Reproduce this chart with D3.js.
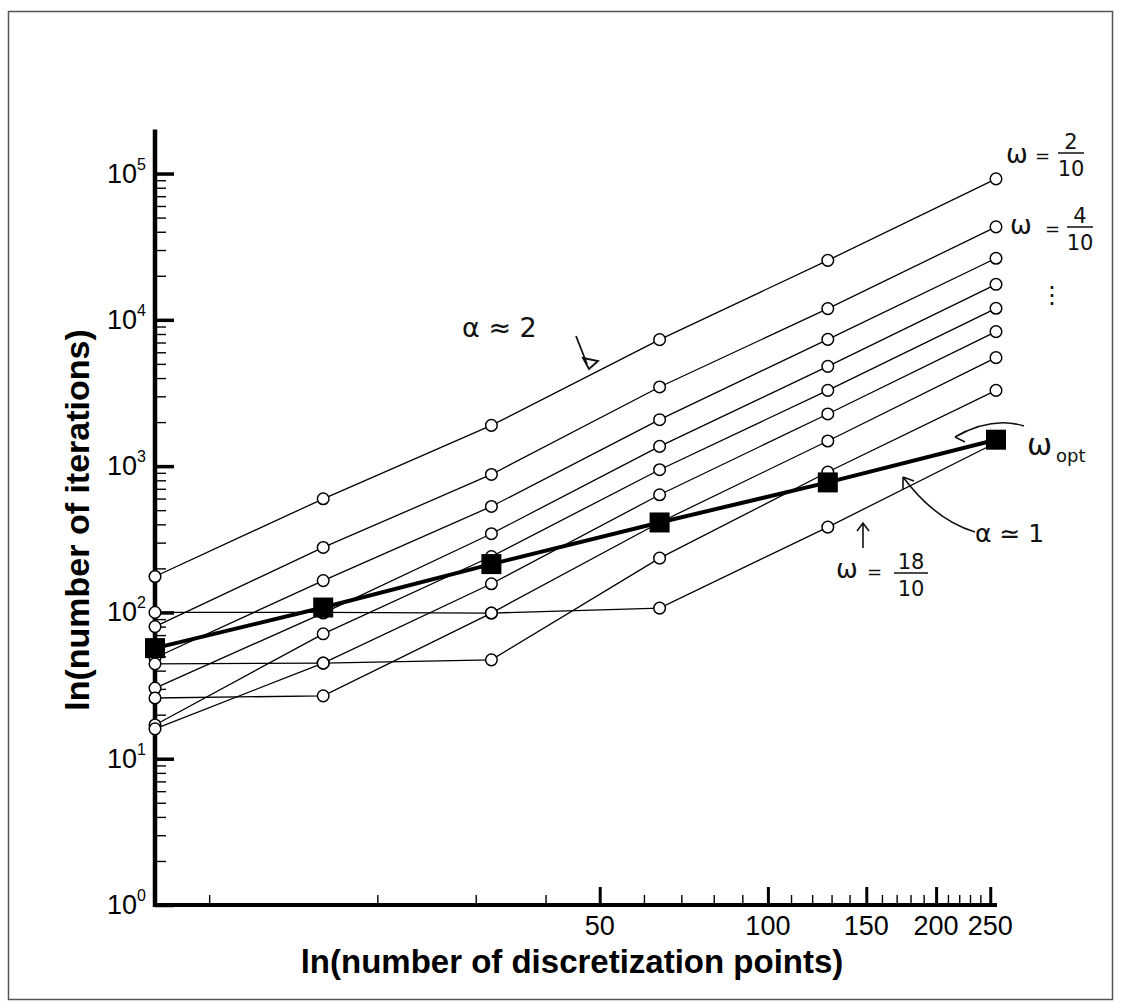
<!DOCTYPE html>
<html lang="en">
<head>
<meta charset="utf-8">
<title>SOR iterations vs grid size</title>
<script src="https://cdn.jsdelivr.net/npm/d3@7"></script>
<style>
  body { margin: 0; background: #fff; }
  svg { display: block; }
  .note { font-family: "DejaVu Sans", sans-serif; fill: #111; }
</style>
</head>
<body>
<script>

// number of discretization points
var xPoints = [8, 16, 32, 64, 128, 256];

// iterations for each fixed omega
var iterW02 = [176, 598, 1898, 7320, 25500, 92000];
var iterW04 = [80, 278, 877, 3475, 11930, 43200];
var iterW06 = [49, 165, 530, 2077, 7355, 26350];
var iterW08 = [30.4, 99, 345, 1364, 4808, 17490];
var iterW10 = [17, 71.4, 241, 945, 3296, 11990];
var iterW12 = [16, 45, 157, 637, 2272, 8307];
var iterW14 = [26, 26.9, 99, 412, 1485, 5513];
var iterW16 = [44.5, 45, 47.4, 235, 911, 3294];
var iterW18 = [100, 100, 99, 107, 383, 1445];
// iterations with the optimal omega
var iterOpt = [57, 108, 214, 412, 774, 1516];

var yMajor = [1, 10, 100, 1000, 10000, 100000];
var yExp = ["0", "1", "2", "3", "4", "5"];
var xMajor = [50, 100, 150, 200, 250];
var xMajorLabels = ["50", "100", "150", "200", "250"];
var xMinor = [10, 20, 30, 40, 60, 70, 80, 90, 110, 120, 130, 140,
              160, 170, 180, 190, 210, 220, 230, 240];

var series = [iterW02, iterW04, iterW06, iterW08, iterW10,
              iterW12, iterW14, iterW16, iterW18];

var w = 1121, h = 1008;

var svg = d3.select("body").append("svg")
    .attr("width", w)
    .attr("height", h);

svg.append("rect")
   .attr("width", w).attr("height", h)
   .attr("fill", "#fff");

// scanned page frame
svg.append("rect")
   .attr("x", 8.5).attr("y", 11.5)
   .attr("width", 1104).attr("height", 988)
   .attr("fill", "none")
   .attr("stroke", "#555")
   .attr("stroke-width", 1.5);

var x = d3.scaleLog().domain([8, 256]).range([155, 996]);
var y = d3.scaleLog().domain([1, 2e5]).range([905, 129.5]);

// minor y ticks 2..9 in each decade
var yMinor = [];
for (var k = 0; k < 5; k++) {
  for (var m = 2; m <= 9; m++) yMinor.push(m * Math.pow(10, k));
}

// y axis ticks
var gy = svg.append("g").attr("transform", "translate(155,0)");
gy.append("g")
  .call(d3.axisRight(y).tickValues(yMinor).tickSize(11).tickFormat(""))
  .call(function(g) { g.select(".domain").remove(); })
  .selectAll("line").attr("stroke", "#000").attr("stroke-width", 1.4);
gy.append("g")
  .call(d3.axisRight(y).tickValues(yMajor).tickSize(19).tickFormat(""))
  .call(function(g) { g.select(".domain").remove(); })
  .selectAll("line").attr("stroke", "#000").attr("stroke-width", 3.5);

// x axis ticks
var gx = svg.append("g").attr("transform", "translate(0,905)");
gx.append("g")
  .call(d3.axisTop(x).tickValues(xMinor).tickSize(10).tickFormat(""))
  .call(function(g) { g.select(".domain").remove(); })
  .selectAll("line").attr("stroke", "#000").attr("stroke-width", 1.4);
gx.append("g")
  .call(d3.axisTop(x).tickValues(xMajor).tickSize(18).tickFormat(""))
  .call(function(g) { g.select(".domain").remove(); })
  .selectAll("line").attr("stroke", "#000").attr("stroke-width", 3);

// axis lines
svg.append("line")
   .attr("x1", x(8)).attr("x2", x(8))
   .attr("y1", y(1) + 2).attr("y2", y(2e5))
   .attr("stroke", "#000").attr("stroke-width", 4.5);
svg.append("line")
   .attr("x1", x(8) - 2).attr("x2", x(256) + 1)
   .attr("y1", y(1)).attr("y2", y(1))
   .attr("stroke", "#000").attr("stroke-width", 4);

// y tick labels 10^k
var ylab = svg.append("g")
   .attr("font-family", "'Liberation Sans', Arial, sans-serif")
   .attr("fill", "#000");
yMajor.forEach(function(v, i) {
  var t = ylab.append("text")
     .attr("x", 146)
     .attr("y", y(v) + 9)
     .attr("text-anchor", "end")
     .attr("font-size", 27);
  t.append("tspan").text("10");
  t.append("tspan").attr("font-size", 16).attr("dy", -13).text(yExp[i]);
});

// x tick labels
svg.append("g")
   .selectAll("text")
   .data(xMajor)
   .enter()
   .append("text")
   .attr("x", function(d) { return x(d); })
   .attr("y", 935)
   .attr("text-anchor", "middle")
   .attr("font-family", "'Liberation Sans', Arial, sans-serif")
   .attr("font-size", 27)
   .text(function(d, i) { return xMajorLabels[i]; });

// axis titles
svg.append("text")
   .attr("x", 572).attr("y", 973)
   .attr("text-anchor", "middle")
   .attr("font-family", "'Liberation Sans', Arial, sans-serif")
   .attr("font-weight", "bold")
   .attr("font-size", 33)
   .text("ln(number of discretization points)");

svg.append("text")
   .attr("transform", "translate(89,520) rotate(-90)")
   .attr("text-anchor", "middle")
   .attr("font-family", "'Liberation Sans', Arial, sans-serif")
   .attr("font-weight", "bold")
   .attr("font-size", 34)
   .text("ln(number of iterations)");

var line = d3.line()
   .x(function(d, i) { return x(xPoints[i]); })
   .y(function(d) { return y(d); });

// fixed omega series
svg.append("g")
   .selectAll("path")
   .data(series)
   .enter()
   .append("path")
   .attr("d", line)
   .attr("fill", "none")
   .attr("stroke", "#000")
   .attr("stroke-width", 1.3);

series.forEach(function(s) {
  svg.append("g")
     .selectAll("circle")
     .data(s)
     .enter()
     .append("circle")
     .attr("cx", function(d, i) { return x(xPoints[i]); })
     .attr("cy", function(d) { return y(d); })
     .attr("r", 5.8)
     .attr("fill", "#fff")
     .attr("stroke", "#000")
     .attr("stroke-width", 1.5);
});

// optimal omega
svg.append("path")
   .datum(iterOpt)
   .attr("d", line)
   .attr("fill", "none")
   .attr("stroke", "#000")
   .attr("stroke-width", 4);

var sq = 20;
svg.append("g")
   .selectAll("rect")
   .data(iterOpt)
   .enter()
   .append("rect")
   .attr("x", function(d, i) { return x(xPoints[i]) - sq / 2; })
   .attr("y", function(d) { return y(d) - sq / 2; })
   .attr("width", sq)
   .attr("height", sq)
   .attr("fill", "#000");

// hand written notes
var notes = svg.append("g").attr("class", "note");

function frac(cx, by, num, den, halfw) {
  notes.append("text").attr("x", cx).attr("y", by - 4)
       .attr("text-anchor", "middle").attr("font-size", 21).text(num);
  notes.append("line").attr("x1", cx - halfw).attr("x2", cx + halfw)
       .attr("y1", by).attr("y2", by)
       .attr("stroke", "#111").attr("stroke-width", 1.5);
  notes.append("text").attr("x", cx).attr("y", by + 23)
       .attr("text-anchor", "middle").attr("font-size", 21).text(den);
}

notes.append("text").attr("x", 1006).attr("y", 163).attr("font-size", 26).text("ω");
notes.append("text").attr("x", 1035).attr("y", 162).attr("font-size", 18).text("=");
frac(1071, 153, "2", "10", 13);

notes.append("text").attr("x", 1010).attr("y", 234).attr("font-size", 26).text("ω");
notes.append("text").attr("x", 1045).attr("y", 235).attr("font-size", 18).text("=");
frac(1080, 227, "4", "10", 13);

notes.append("text").attr("x", 1040).attr("y", 303).attr("font-size", 24).text("⋮");

notes.append("text").attr("x", 1027).attr("y", 455).attr("font-size", 30).text("ω");
notes.append("text").attr("x", 1056).attr("y", 462).attr("font-size", 18).text("opt");
notes.append("path")
     .attr("d", "M1024,426 Q992,416 955,437 M955,437 L966,431 M955,437 L965,442")
     .attr("fill", "none").attr("stroke", "#111").attr("stroke-width", 1.6);

notes.append("text").attr("x", 462).attr("y", 337).attr("font-size", 27).text("α ≈ 2");
notes.append("path")
     .attr("d", "M576,336 L587,364")
     .attr("fill", "none").attr("stroke", "#111").attr("stroke-width", 1.8);
notes.append("path")
     .attr("d", "M583,358 L598,361 L589,369 Z")
     .attr("fill", "none").attr("stroke", "#111").attr("stroke-width", 1.8);

notes.append("text").attr("x", 975).attr("y", 542).attr("font-size", 25).text("α ≃ 1");
notes.append("path")
     .attr("d", "M975,532 Q935,520 903,477 M903,477 L903,490 M903,477 L914,481")
     .attr("fill", "none").attr("stroke", "#111").attr("stroke-width", 1.6);

notes.append("text").attr("x", 836).attr("y", 578).attr("font-size", 26).text("ω");
notes.append("text").attr("x", 867).attr("y", 578).attr("font-size", 18).text("=");
frac(911, 573, "18", "10", 17);
notes.append("path")
     .attr("d", "M863,548 L863,523 M857,531 L863,523 L869,531")
     .attr("fill", "none").attr("stroke", "#111").attr("stroke-width", 1.6);

</script>
</body>
</html>
